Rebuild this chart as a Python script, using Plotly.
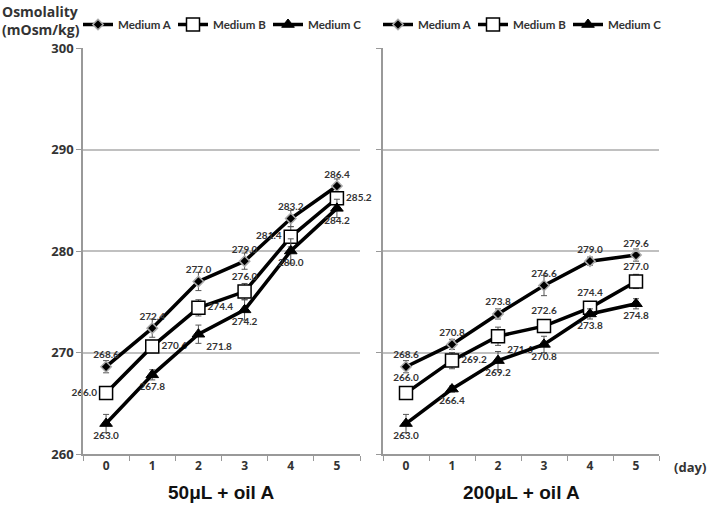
import plotly.graph_objects as go

days = ["0", "1", "2", "3", "4", "5"]
series_names = ["Medium A", "Medium B", "Medium C"]

# 50uL + oil A
left_a = [268.6, 272.4, 277.0, 279.0, 283.2, 286.4]
left_b = [266.0, 270.6, 274.4, 276.0, 281.4, 285.2]
left_c = [263.0, 267.8, 271.8, 274.2, 280.0, 284.2]
left_a_err = [0.6, 0.9, 0.9, 0.8, 0.8, 0.7]
left_b_err = [0.6, 0.6, 0.8, 0.8, 1.0, 0.6]
left_c_err = [0.9, 0.5, 0.9, 1.0, 1.2, 0.9]

# 200uL + oil A
right_a = [268.6, 270.8, 273.8, 276.6, 279.0, 279.6]
right_b = [266.0, 269.2, 271.6, 272.6, 274.4, 277.0]
right_c = [263.0, 266.4, 269.2, 270.8, 273.8, 274.8]
right_a_err = [0.6, 0.5, 0.5, 1.0, 0.4, 0.6]
right_b_err = [0.6, 0.8, 0.9, 0.6, 0.6, 0.7]
right_c_err = [0.9, 0.3, 0.9, 0.8, 0.5, 0.5]

# label positions
left_pos = [
    ["top center"] * 6,
    ["middle left", "middle right", "middle right", "top center", "middle left", "middle right"],
    ["bottom center", "bottom center", "bottom right", "bottom center", "bottom center", "bottom center"],
]
right_pos = [
    ["top center"] * 6,
    ["top center", "middle right", "bottom right", "top center", "top center", "top center"],
    ["bottom center"] * 6,
]

markers = [
    dict(symbol="diamond", size=8, color="black", line=dict(color="#aaaaaa", width=1.5)),
    dict(symbol="square", size=13, color="white", line=dict(color="black", width=1.5)),
    dict(symbol="triangle-up", size=11, color="black", line=dict(color="black", width=1)),
]

W, H = 708, 523
fig = go.Figure()

panels = [
    ([left_a, left_b, left_c], [left_a_err, left_b_err, left_c_err], left_pos, "x", "y", "legend"),
    ([right_a, right_b, right_c], [right_a_err, right_b_err, right_c_err], right_pos, "x2", "y2", "legend2"),
]
for vals, errs, pos, xa, ya, leg in panels:
    for i in range(3):
        fig.add_trace(go.Scatter(
            x=days, y=vals[i], name=series_names[i],
            mode="lines+markers+text",
            line=dict(color="black", width=3.5),
            marker=markers[i],
            error_y=dict(type="data", array=errs[i], color="#555555", thickness=1, width=3),
            text=[f"{v:.1f}" for v in vals[i]],
            textposition=pos[i],
            textfont=dict(family="Lato, Open Sans, sans-serif", size=10, color="#333333", weight="bold"),
            xaxis=xa, yaxis=ya, legend=leg, cliponaxis=False,
        ))

xdom1 = [83 / W, 360 / W]
xdom2 = [383 / W, 659 / W]
ydom = [(H - 454) / H, (H - 48) / H]

axis_x = dict(
    type="category", range=[-0.5, 5.5], tickson="boundaries",
    ticks="outside", ticklen=5, tickcolor="#999999",
    showline=True, linecolor="#999999", linewidth=1.5, showgrid=False,
    tickfont=dict(family="Open Sans, sans-serif", size=12, color="#333333", weight="bold"),
    zeroline=False,
)
axis_y = dict(
    range=[260, 300], dtick=10, ticks="outside", ticklen=5, tickcolor="#999999",
    showline=True, linecolor="#999999", linewidth=1.5,
    showgrid=True, gridcolor="#c0c0c0", gridwidth=1.5, zeroline=False,
    tickfont=dict(family="Open Sans, sans-serif", size=13, color="#333333", weight="bold"),
)

legend_common = dict(
    orientation="h", yanchor="top", xanchor="left",
    font=dict(family="Lato, Open Sans, sans-serif", size=11.5, color="#333333", weight="bold"),
    bgcolor="rgba(0,0,0,0)", itemwidth=30,
    entrywidth=50, entrywidthmode="pixels", tracegroupgap=0,
)

fig.update_layout(
    width=W, height=H,
    margin=dict(l=0, r=0, t=0, b=0, autoexpand=False),
    paper_bgcolor="white", plot_bgcolor="white",
    xaxis=dict(domain=xdom1, anchor="y", **axis_x),
    yaxis=dict(domain=ydom, anchor="x", **axis_y),
    xaxis2=dict(domain=xdom2, anchor="y2", **axis_x),
    yaxis2=dict(domain=ydom, anchor="x2", showticklabels=False, **axis_y),
    legend=dict(x=78 / W, y=1 - 10 / H, **legend_common),
    legend2=dict(x=378 / W, y=1 - 10 / H, **legend_common),
    annotations=[
        dict(text="Osmolality<br>(mOsm/kg)", x=0, y=1, xref="paper", yref="paper",
             xanchor="left", yanchor="top", align="left", showarrow=False,
             font=dict(family="Open Sans, sans-serif", size=14, color="#333333", weight="bold")),
        dict(text="(day)", x=1, y=(H - 467) / H, xref="paper", yref="paper",
             xanchor="right", yanchor="middle", showarrow=False,
             font=dict(family="Open Sans, sans-serif", size=13, color="#333333", weight="bold")),
        dict(text="50μL + oil A", x=221 / W, y=(H - 492) / H, xref="paper", yref="paper",
             xanchor="center", yanchor="middle", showarrow=False,
             font=dict(family="Liberation Sans Narrow, Liberation Sans, sans-serif", size=19,
                       color="#111111", weight="bold")),
        dict(text="200μL + oil A", x=521 / W, y=(H - 492) / H, xref="paper", yref="paper",
             xanchor="center", yanchor="middle", showarrow=False,
             font=dict(family="Liberation Sans Narrow, Liberation Sans, sans-serif", size=19,
                       color="#111111", weight="bold")),
    ],
)

fig.write_html("out.html", config={"displayModeBar": False},
               post_script="document.body.style.margin='0';")
